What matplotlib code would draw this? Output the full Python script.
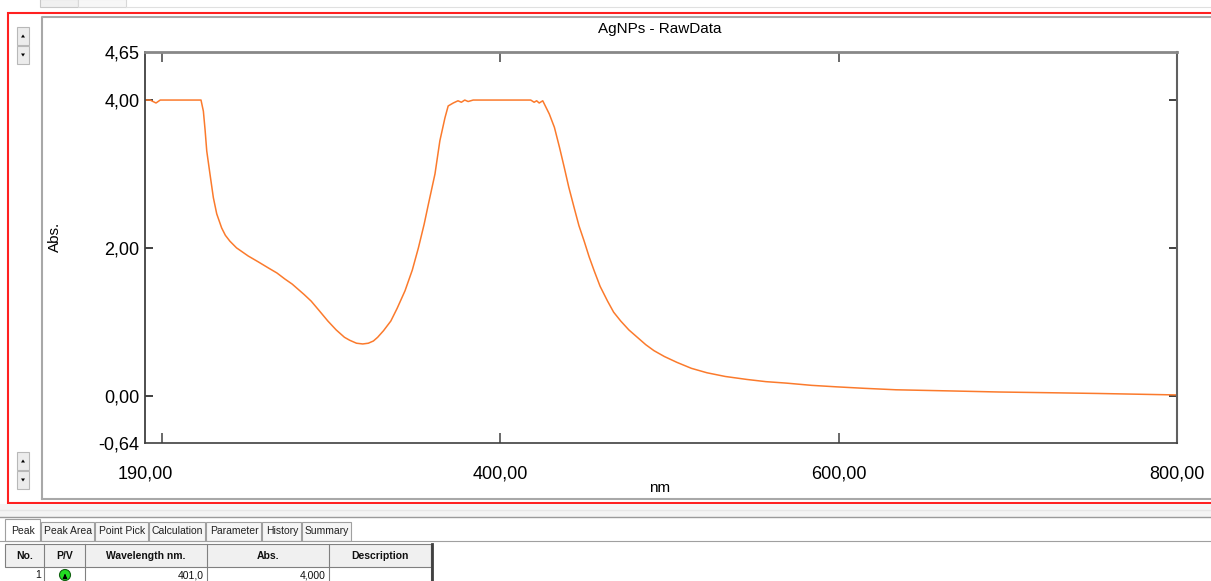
import matplotlib
matplotlib.use("Agg")
import matplotlib.pyplot as plt
from matplotlib.patches import Rectangle, Circle, Polygon

plt.rcParams["font.family"] = ["Liberation Sans", "DejaVu Sans"]

# spectrum (nm, Abs.)
wavelength = [190, 193, 196.5, 199, 205, 215, 223.1, 224.5, 225.5, 226.5, 228.4,
              230.4, 232.4, 235.3, 237.5, 240.2, 244.1, 251, 257, 262.8, 268,
              272.6, 277, 280.5, 284, 288.2, 293, 298.1, 303, 307.9, 311, 315,
              318.7, 322, 325, 327.5, 331, 335.3, 339, 343.7, 348, 351.6, 355,
              357.5, 361.4, 364.3, 367.3, 369.2, 372.2, 375, 377, 379, 381, 384,
              390, 400, 410, 418, 420, 421.5, 423, 425.1, 429, 432, 435, 437.8,
              440.5, 443.7, 446.5, 449.6, 452.5, 455.5, 459, 463.4, 467, 471.2,
              476, 481, 486, 490.8, 497, 504.5, 513, 522.2, 533, 545.7, 557,
              569.2, 584, 598.6, 615, 633.9, 665, 694.7, 725, 753.5, 800]
absorb = [4.00, 4.00, 3.96, 4.00, 4.00, 4.00, 4.00, 3.85, 3.60, 3.31, 3.00,
          2.68, 2.46, 2.27, 2.17, 2.09, 2.00, 1.89, 1.81, 1.73, 1.66,
          1.58, 1.51, 1.44, 1.37, 1.28, 1.15, 1.01, 0.89, 0.79, 0.75, 0.71,
          0.70, 0.71, 0.74, 0.79, 0.88, 1.01, 1.18, 1.42, 1.70, 2.00, 2.32,
          2.59, 3.00, 3.45, 3.76, 3.92, 3.96, 3.99, 3.97, 4.00, 3.98, 4.00,
          4.00, 4.00, 4.00, 4.00, 3.97, 3.99, 3.96, 3.99, 3.81, 3.63, 3.36, 3.09,
          2.82, 2.54, 2.30, 2.09, 1.88, 1.69, 1.48, 1.28, 1.13, 1.01,
          0.89, 0.79, 0.69, 0.61, 0.53, 0.45, 0.37, 0.31, 0.26, 0.22, 0.19,
          0.17, 0.14, 0.12, 0.10, 0.08, 0.065, 0.05, 0.04, 0.03, 0.01]

x_tick_vals = [190, 400, 600, 800]
x_tick_text = ["190,00", "400,00", "600,00", "800,00"]
x_marks = [200, 400, 600]
y_tick_vals = [-0.64, 0.0, 2.0, 4.0, 4.65]
y_tick_text = ["-0,64", "0,00", "2,00", "4,00", "4,65"]
y_marks = [0.0, 2.0, 4.0]

tab_names = ["Peak", "Peak Area", "Point Pick", "Calculation", "Parameter",
             "History", "Summary"]
tab_edges = [5, 41, 95, 149, 206, 262, 302, 352]
col_names = ["No.", "P/V", "Wavelength nm.", "Abs.", "Description"]
col_edges = [5, 44, 85, 207, 329, 431]
peak_row = ["1", "", "401,0", "4,000", ""]

W, H = 1211, 581
fig = plt.figure(figsize=(W / 100, H / 100), dpi=100)

# --- window chrome, drawn in pixel coordinates ---
bg = fig.add_axes([0, 0, 1, 1], zorder=0)
bg.set_xlim(0, W)
bg.set_ylim(H, 0)
bg.axis("off")

bg.add_patch(Rectangle((40, -1), 38, 8, fc="#f0f0f0", ec="#c8c8c8", lw=0.8))
bg.add_patch(Rectangle((78, -1), 48, 8, fc="#f7f7f7", ec="#d8d8d8", lw=0.8))
bg.plot([126, W], [7, 7], color="#e0e0e0", lw=0.8)
bg.add_patch(Rectangle((8, 13), W, 490, fc="white", ec="#ff2020", lw=1.5))
bg.plot([42, 42, W], [499, 17, 17], color="#a8a8a8", lw=1.5)
bg.plot([42, W], [499, 499], color="#a8a8a8", lw=1.5)

for y0 in (27, 46, 452, 471):
    bg.add_patch(Rectangle((17, y0), 12, 18, fc="#ececec", ec="#b8b8b8", lw=0.8))
for y0, up in ((27, True), (46, False), (452, True), (471, False)):
    cy = y0 + 9
    pts = ([(21, cy + 1.5), (25, cy + 1.5), (23, cy - 1.5)] if up else
           [(21, cy - 1.5), (25, cy - 1.5), (23, cy + 1.5)])
    bg.add_patch(Polygon(pts, closed=True, fc="black", ec="none"))

# strip between graph and tabs
bg.add_patch(Rectangle((0, 504), W, 14, fc="#f4f4f4", ec="none"))
bg.plot([0, W], [510, 510], color="#e6e6e6", lw=1)
bg.plot([0, W], [517, 517], color="#9a9a9a", lw=1)
bg.add_patch(Rectangle((0, 518), W, H - 518, fc="white", ec="none"))

# tabs
bg.plot([0, W], [541, 541], color="#a0a0a0", lw=0.8)
for i, name in enumerate(tab_names):
    x0, x1 = tab_edges[i], tab_edges[i + 1]
    top = 519 if i == 0 else 522
    bg.add_patch(Rectangle((x0, top), x1 - x0 - 1, 541 - top,
                           fc="white" if i == 0 else "#f6f6f6",
                           ec="#a0a0a0", lw=0.8))
    bg.text((x0 + x1) / 2, 531, name, ha="center", va="center",
            fontsize=7.5, color="#202020")

# peak table
bg.add_patch(Rectangle((5, 544), col_edges[-1] - 5, 23, fc="#f0f0f0",
                       ec="#808080", lw=0.8))
for i, name in enumerate(col_names):
    x0, x1 = col_edges[i], col_edges[i + 1]
    bg.plot([x1, x1], [544, H], color="#808080", lw=0.8)
    bg.text((x0 + x1) / 2, 556, name, ha="center", va="center",
            fontsize=7.5, fontweight="bold", color="#101010")
bg.plot([col_edges[-1] + 1, col_edges[-1] + 1], [544, H], color="#404040", lw=2)
for i, val in enumerate(peak_row):
    if val:
        bg.text(col_edges[i + 1] - 3, 575, val, ha="right", va="center",
                fontsize=7.5, color="#101010")
bg.add_patch(Circle((65, 575), 5.5, fc="#22dd22", ec="#106010", lw=0.8))
bg.annotate("", xy=(65, 571), xytext=(65, 579),
            arrowprops=dict(arrowstyle="-|>", color="black", lw=0.9,
                            mutation_scale=6))

# --- the spectrum ---
ax = fig.add_axes([145 / W, 1 - 443 / H, (1177 - 145) / W, (443 - 52) / H],
                  zorder=1)
ax.plot(wavelength, absorb, color="#fb7a2c", lw=1.1)
ax.set_xlim(190, 800)
ax.set_ylim(-0.64, 4.65)

# minor ticks sit on the same values as some labels, keep both
ax.xaxis.remove_overlapping_locs = False
ax.yaxis.remove_overlapping_locs = False
ax.set_xticks(x_tick_vals, x_tick_text)
ax.set_xticks(x_marks, minor=True)
ax.set_yticks(y_tick_vals, y_tick_text)
ax.set_yticks(y_marks, minor=True)
ax.tick_params(axis="x", which="major", length=0, pad=16, labelsize=13)
ax.tick_params(axis="y", which="major", length=0, pad=4, labelsize=13)
ax.tick_params(axis="x", which="minor", direction="in", length=7,
               top=True, bottom=True, color="#505050", width=1.2)
ax.tick_params(axis="y", which="minor", direction="in", length=6,
               left=True, right=True, color="#202020", width=1.2)

ax.spines["top"].set_color("#888888")
ax.spines["top"].set_linewidth(2)
ax.spines["left"].set_color("#404040")
ax.spines["left"].set_linewidth(1.3)
ax.spines["right"].set_color("#606060")
ax.spines["right"].set_linewidth(1.5)
ax.spines["bottom"].set_color("#404040")
ax.spines["bottom"].set_linewidth(1.2)

fig.text(660 / W, 1 - 29 / H, "AgNPs - RawData", ha="center", va="center",
         fontsize=11)
fig.text(660 / W, 1 - 488 / H, "nm", ha="center", va="center", fontsize=11)
fig.text(55 / W, 1 - 237 / H, "Abs.", ha="center", va="center", fontsize=11,
         rotation=90)

fig.savefig("out.png", dpi=100)
